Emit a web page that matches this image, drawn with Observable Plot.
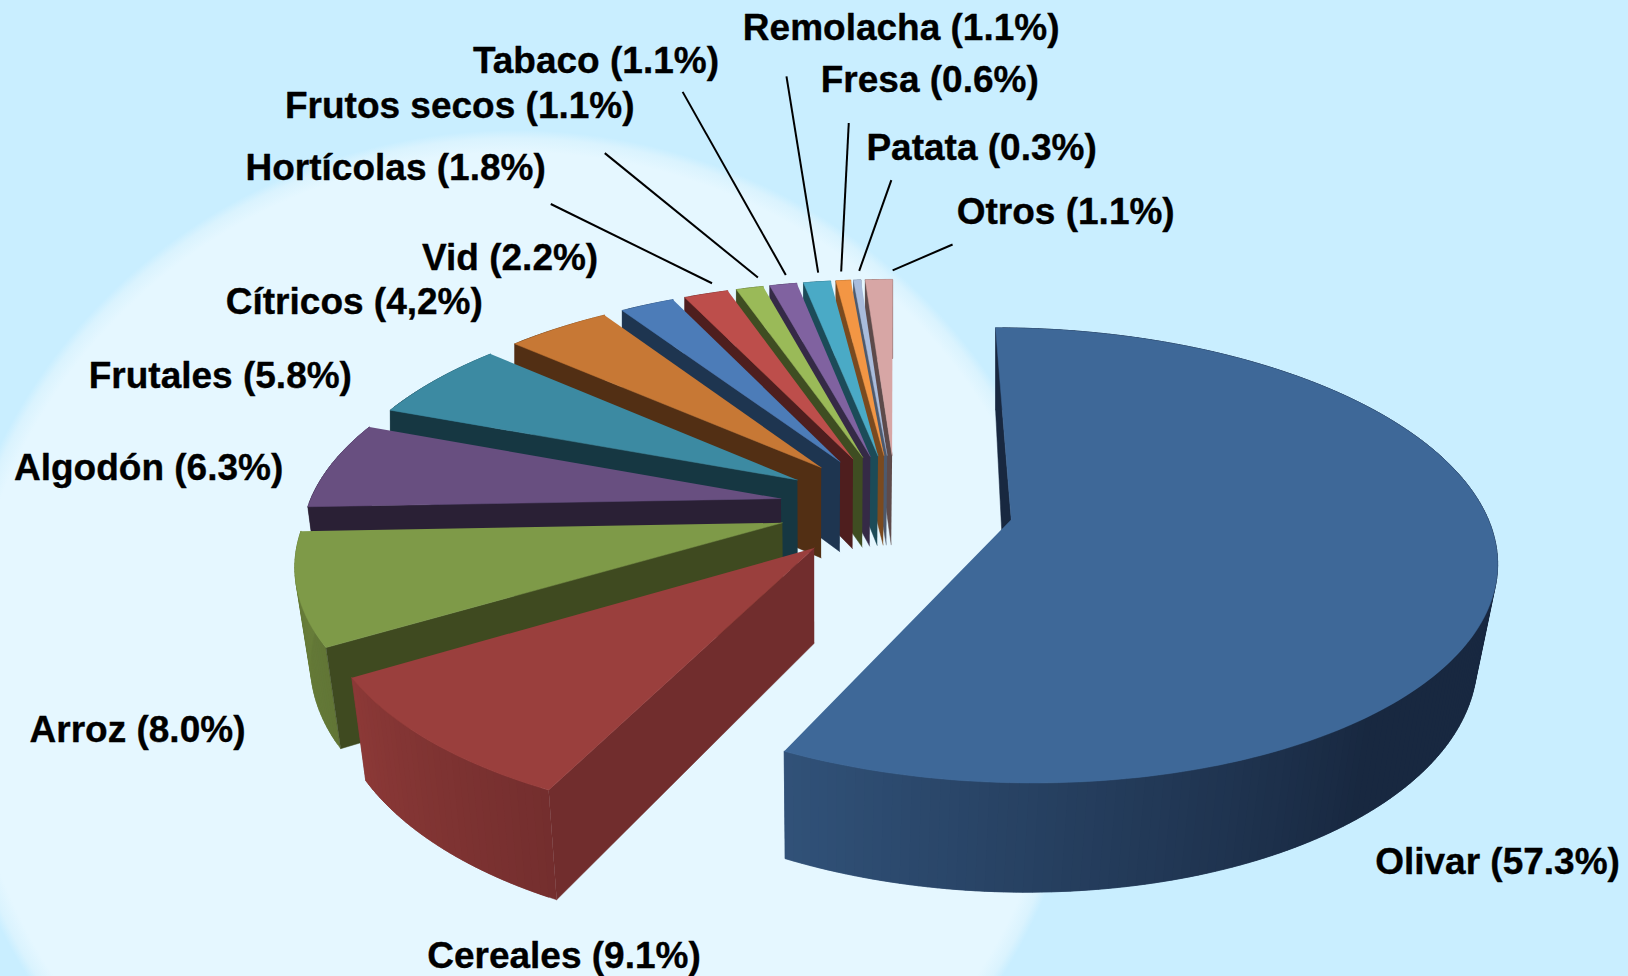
<!DOCTYPE html>
<html><head><meta charset="utf-8">
<script src="https://cdn.jsdelivr.net/npm/d3@7"></script>
<script src="https://cdn.jsdelivr.net/npm/@observablehq/plot@0.6"></script>
<style>
html,body{margin:0;padding:0;width:1628px;height:976px;overflow:hidden;background:#c9eeff}
#bg{position:absolute;left:0;top:0;width:1628px;height:976px;
background:radial-gradient(ellipse 572px 556px at 515px 686px,#e5f7ff 0,#e5f7ff 96%,#daf3fe 98.5%,#c9eeff 100%)}
#chart{position:absolute;left:0;top:0}
svg{background:transparent!important;display:block}
</style></head><body><div id="bg"></div><div id="chart"></div>
<script>
const categories=["Olivar","Cereales","Arroz","Algodón","Frutales","Cítricos","Vid","Hortícolas","Frutos secos","Tabaco","Remolacha","Fresa","Patata","Otros"];
const shares=[57.3,9.1,8.0,6.3,5.8,4.2,2.2,1.8,1.1,1.1,1.1,0.6,0.3,1.1];
const labelTexts=["Olivar (57.3%)","Cereales (9.1%)","Arroz (8.0%)","Algodón (6.3%)","Frutales (5.8%)","Cítricos (4,2%)","Vid (2.2%)","Hortícolas (1.8%)","Frutos secos (1.1%)","Tabaco (1.1%)","Remolacha (1.1%)","Fresa (0.6%)","Patata (0.3%)","Otros (1.1%)"];
const topColors=["#3e6898","#9a3f3d","#7e9a48","#684f80","#3c8aa2","#c77835","#4c7cb8","#bd4e4b","#9aba58","#8062a0","#4aaac6","#f39644","#a9bcdc","#d7a6a5"];
const sideColors=["#182840","#712d2d","#3f4a20","#2a2035","#163742","#522f14","#1e3550","#4e1e1e","#3f4d22","#352a46","#1c4b58","#7a4a1f","#4d5a6e","#5d4a4a"];
const wallShadeFrom=[0,.12,.85,0,0,0,0,0,0,0,0,0,0,0];
// label placement (reference px, 1568-wide frame)
const labelX=[1324,411,28,13,85,217,406,236,274,455,715,790,834,921];
const labelY=[830,920,703,450,362,291,248,161,102,58,27,77,142,204];
// leader lines: outer ends, and where on the slice's arc the inner end sits
const leaderOuterX=[null,null,null,null,null,null,null,530,582,657,757,817,858,917];
const leaderOuterY=[null,null,null,null,null,null,null,196,147,88,73,118,173,235];
const leaderAt=[0,0,0,0,0,0,0,.8,1,.75,.65,.5,.95,1];

// oblique-perspective pie projection
const view={cx:862.5,cy:488,A:455.5,B:210,k:.156,s:0,explode:.248,vanishX:785,lean:.03,leanFromY:390,leanOverY:120,depth0:60,depthY:.06};
const project=(U,V)=>{const w=1-view.k*V;return [view.cx+(view.A*U+view.s*V)/w,view.cy+view.B*V/w];};
const drop=([x,y])=>{
  const l=view.lean*Math.max(0,Math.min(1,(y-view.leanFromY)/view.leanOverY));
  return [x+(view.vanishX-x)*l,y+view.depth0+view.depthY*y];
};
const tau=2*Math.PI, total=d3.sum(shares);
let acc=0;
const slices=categories.map((name,i)=>{
  const a0=acc/total*tau; acc+=shares[i]; const a1=acc/total*tau; const mid=(a0+a1)/2;
  return {name,i,a0,a1,mid,ox:view.explode*Math.sin(mid),oy:-view.explode*Math.cos(mid)};
});
const rim=(s,a,r=1)=>project(s.ox+r*Math.sin(a),s.oy-r*Math.cos(a));
const poly=(rows,id,c,pts)=>pts.forEach(p=>rows.push({id,c,x:p[0],y:p[1]}));
// every piece goes into one ordered list: far slices first
const order=[];
for(const s of [...slices].reverse()){
  const apex=project(s.ox,s.oy), top=topColors[s.i], side=sideColors[s.i];
  const n=Math.max(2,Math.ceil((s.a1-s.a0)/(tau/360)));
  const step=(s.a1-s.a0)/n;
  const rampSpan=Math.min(s.a1-s.a0,tau*66/360);
  const lit=d3.interpolateRgb(top,side)(.35);
  // outer wall: strips overlap the next one so no seams show through
  for(let j=0;j<n;j++){
    const a=s.a0+step*j,b=Math.min(s.a1,a+2*step);
    const t=Math.max(0,Math.min(1,(a-(s.a1-rampSpan))/rampSpan));
    const p=rim(s,a),q=rim(s,b);
    const shade=wallShadeFrom[s.i]+(1-wallShadeFrom[s.i])*t;
    poly(order,`${s.name}-wall-${j}`,d3.interpolateRgb(side,lit)(shade),[p,q,drop(q),drop(p)]);
  }
  // first radial face
  const r0=rim(s,s.a0);
  poly(order,`${s.name}-face`,side,[apex,r0,drop(r0),drop(apex)]);
  // top surface
  const arc=d3.range(n+1).map(j=>rim(s,s.a0+step*j));
  poly(order,`${s.name}-top`,top,[apex,...arc]);
}
const labels=categories.map((c,i)=>({text:labelTexts[i],x:labelX[i],y:labelY[i]}));
const leaders=slices.filter(s=>leaderOuterX[s.i]!=null).map(s=>{
  const tip=rim(s,s.a0+(s.a1-s.a0)*leaderAt[s.i],1.06);
  return {x1:leaderOuterX[s.i],y1:leaderOuterY[s.i],x2:tip[0],y2:tip[1]};
});
const chart=Plot.plot({
  width:1628,height:976,margin:0,
  style:{background:"transparent"},
  x:{domain:[0,1568],range:[0,1628],axis:null},
  y:{domain:[0,940],range:[0,976],axis:null},
  color:{type:"identity"},
  marks:[
    Plot.line(order,{x:"x",y:"y",z:"id",fill:"c",stroke:"c",strokeWidth:.5,curve:"linear"}),
    Plot.link(leaders,{x1:"x1",y1:"y1",x2:"x2",y2:"y2",stroke:"#000",strokeWidth:2}),
    Plot.text(labels,{x:"x",y:"y",text:"text",textAnchor:"start",lineAnchor:"middle",fontFamily:"Liberation Sans",fontWeight:"bold",fontSize:37,fill:"#000",stroke:"#000",strokeWidth:.35})
  ]
});
document.getElementById("chart").append(chart);
</script></body></html>
